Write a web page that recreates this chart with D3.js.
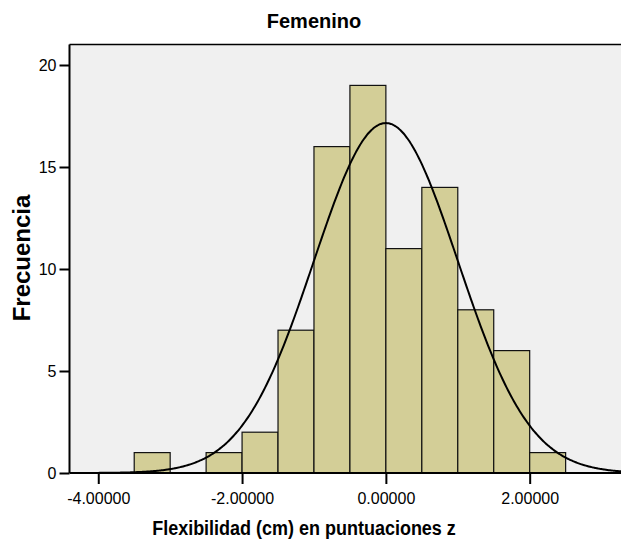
<!DOCTYPE html>
<html><head><meta charset="utf-8">
<script src="https://cdn.jsdelivr.net/npm/d3@7"></script>
<style>html,body{margin:0;padding:0;background:#fff;}svg{display:block;}</style>
</head><body>
<script>
const binStarts = [-3.5, -2.5, -2.0, -1.5, -1.0, -0.5, 0.0, 0.5, 1.0, 1.5, 2.0];
const binWidth = 0.5;
const counts = [1, 1, 2, 7, 16, 19, 11, 14, 8, 6, 1];
const xTicks = [-4, -2, 0, 2];
const yTicks = [0, 5, 10, 15, 20];
const curveMean = 0.0, curveSD = 1.0, curveN = 86;

(function(){
const W = 621, H = 545;
const pLeft = 69.5, pTop = 44.5, pBottom = 473, pRight = 621;
const svg = d3.select("body").append("svg").attr("width", W).attr("height", H);
const font = "'Liberation Sans', Arial, sans-serif";

const xs = d3.scaleLinear().domain([-4.4, 3.27]).range([pLeft, pRight]);
const ys = d3.scaleLinear().domain([0, 20]).range([pBottom, 65]);

svg.append("defs").append("clipPath").attr("id","clip")
  .append("rect").attr("x", pLeft).attr("y", pTop).attr("width", pRight-pLeft).attr("height", pBottom-pTop);

svg.append("rect").attr("x", pLeft).attr("y", pTop).attr("width", pRight-pLeft).attr("height", pBottom-pTop)
  .attr("fill", "#f0f0f0");

const g = svg.append("g").attr("clip-path","url(#clip)");
g.selectAll("rect.bar").data(binStarts.map((s,i)=>({s, c:counts[i]}))).enter().append("rect")
  .attr("class","bar")
  .attr("x", d=>xs(d.s)).attr("width", d=>xs(d.s+binWidth)-xs(d.s))
  .attr("y", d=>ys(d.c)).attr("height", d=>ys(0)-ys(d.c))
  .attr("fill", "#d3ce97").attr("stroke", "#111").attr("stroke-width", 1.2);

const pts = d3.range(-4.4, 3.3, 0.02).map(v => [v, curveN*binWidth/(curveSD*Math.sqrt(2*Math.PI))*Math.exp(-0.5*((v-curveMean)/curveSD)**2)]);
g.append("path").datum(pts)
  .attr("d", d3.line().x(d=>xs(d[0])).y(d=>ys(d[1])).curve(d3.curveBasis))
  .attr("fill","none").attr("stroke","#000").attr("stroke-width",2);

svg.append("line").attr("x1", pLeft).attr("x2", pRight).attr("y1", pTop).attr("y2", pTop).attr("stroke","#000").attr("stroke-width",1.5);

const yAxis = svg.append("g").attr("transform", `translate(${pLeft},0)`)
  .call(d3.axisLeft(ys).tickValues(yTicks).tickSize(10).tickPadding(3).tickFormat(d3.format("d")));
yAxis.select(".domain").attr("d", `M0,${pTop}V${pBottom}`).attr("stroke-width", 2);
yAxis.selectAll(".tick line").attr("stroke-width", 2);
yAxis.selectAll("text").attr("font-family", font).attr("font-size", 16).attr("fill","#000");

const fmt = d3.format(".5f");
const xAxis = svg.append("g").attr("transform", `translate(0,${pBottom})`)
  .call(d3.axisBottom(xs).tickValues(xTicks).tickSize(11).tickPadding(9).tickFormat(d => fmt(d).replace("\u2212", "-")));
xAxis.select(".domain").attr("d", `M${pLeft},0H${pRight}`).attr("stroke-width", 2);
xAxis.selectAll(".tick line").attr("stroke-width", 2);
xAxis.selectAll("text").attr("font-family", font).attr("font-size", 16).attr("fill","#000");

svg.append("text").attr("x", 314).attr("y", 27.5).attr("text-anchor","middle")
  .attr("font-family", font).attr("font-weight","bold").attr("font-size", 20).text("Femenino");
svg.append("text").attr("transform","translate(304,535) scale(1,1.15)").attr("text-anchor","middle")
  .attr("font-family", font).attr("font-weight","bold").attr("font-size", 18).text("Flexibilidad (cm) en puntuaciones z");
svg.append("text").attr("transform","translate(30,258) rotate(-90)").attr("text-anchor","middle")
  .attr("font-family", font).attr("font-weight","bold").attr("font-size", 24).text("Frecuencia");
})();
</script>
</body></html>
